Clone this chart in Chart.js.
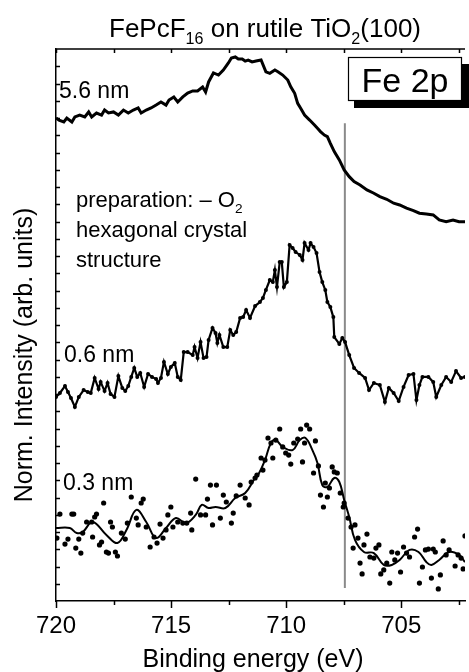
<!DOCTYPE html>
<html>
<head>
<meta charset="utf-8">
<script src="https://cdn.jsdelivr.net/npm/chart.js@4.4.0/dist/chart.umd.min.js"></script>
<style>
  html, body { margin:0; padding:0; background:#fff; }
  #chart { display:block; }
</style>
</head>
<body>
<canvas id="chart" width="469" height="672"></canvas>
<script>
// ---- Data (binding energy in eV, normalized intensity in arb. units) ----
const xTicks = [720, 715, 710, 705];

// 5.6 nm spectrum
const energy56 = [720.00,719.87,719.66,719.53,719.31,719.18,718.97,718.75,718.58,718.45,718.24,718.02,717.89,717.72,717.50,717.29,717.07,716.86,716.64,716.43,716.30,716.08,715.87,715.65,715.44,715.22,715.09,714.88,714.71,714.49,714.28,714.06,713.85,713.63,713.50,713.37,713.16,712.94,712.73,712.51,712.38,712.21,712.08,711.91,711.78,711.65,711.48,711.31,711.09,710.88,710.71,710.49,710.36,710.15,709.93,709.80,709.63,709.50,709.37,709.20,708.98,708.77,708.64,708.51,708.34,708.21,708.08,707.91,707.69,707.48,707.26,707.05,706.79,706.49,706.19,705.93,705.63,705.33,705.07,704.77,704.47,704.21,703.91,703.61,703.35,703.05,702.75,702.49,702.23];
const inten56  = [28.00,27.88,27.77,28.00,27.77,28.06,28.17,28.06,28.35,28.06,28.29,28.17,28.46,28.29,28.35,28.17,28.46,28.29,28.46,28.58,28.29,28.46,28.58,28.75,28.93,28.75,29.04,29.22,28.93,29.22,29.45,29.57,29.57,29.80,29.51,30.09,30.61,30.49,30.78,31.19,31.48,31.54,31.42,31.42,31.30,31.36,31.25,31.30,31.36,30.68,30.59,30.78,30.68,30.49,30.20,29.81,29.43,28.85,28.56,28.17,27.88,27.59,27.40,27.21,27.01,26.92,26.53,26.05,25.57,24.99,24.60,24.31,24.12,23.83,23.64,23.44,23.29,23.06,22.96,22.77,22.63,22.48,22.43,22.38,22.09,21.99,22.09,21.99,21.99];

// 0.6 nm spectrum
const energy06 = [720.00,719.83,719.61,719.48,719.35,719.18,719.01,718.80,718.62,718.49,718.32,718.15,718.06,717.89,717.76,717.63,717.46,717.29,717.12,716.99,716.86,716.73,716.60,716.47,716.34,716.17,716.00,715.83,715.65,715.57,715.44,715.31,715.14,715.01,714.84,714.71,714.58,714.45,714.28,714.06,713.98,713.85,713.72,713.59,713.46,713.37,713.20,713.07,712.99,712.90,712.73,712.56,712.43,712.30,712.17,712.00,711.87,711.74,711.57,711.35,711.14,711.01,710.88,710.71,710.58,710.49,710.40,710.28,710.19,710.10,709.97,709.85,709.72,709.59,709.41,709.29,709.20,709.03,708.94,708.81,708.68,708.55,708.43,708.30,708.21,708.08,707.95,707.91,707.69,707.56,707.44,707.26,707.05,706.83,706.57,706.40,706.19,705.93,705.71,705.54,705.33,705.11,704.90,704.68,704.47,704.34,704.21,704.08,703.82,703.61,703.48,703.26,703.05,702.83,702.62,702.40,702.23];
const inten06  = [11.83,12.06,12.46,12.12,11.77,11.25,11.83,12.23,12.12,12.06,12.93,12.29,12.70,12.17,12.64,12.00,11.83,13.04,12.35,12.17,12.46,12.99,13.51,12.99,13.22,12.41,13.16,12.99,12.87,12.64,12.93,13.86,13.16,13.57,13.80,12.99,12.81,14.43,14.43,14.26,14.72,14.09,15.01,14.09,14.14,15.13,15.83,15.54,14.96,15.42,14.72,14.72,15.71,15.42,15.59,16.41,16.46,16.87,16.41,17.10,17.33,17.57,18.03,18.61,18.49,19.19,18.20,19.65,19.65,18.20,18.49,20.64,20.46,20.23,20.06,19.77,20.75,20.35,20.75,20.52,20.17,19.07,18.49,18.03,17.33,17.04,16.46,15.30,14.90,15.25,15.01,14.26,13.51,13.22,12.93,12.23,12.64,12.52,11.54,12.35,12.06,11.59,12.41,13.10,13.16,11.65,12.52,12.99,12.99,12.70,11.83,12.52,12.99,12.70,13.33,12.93,12.99];

// 0.3 nm: smoothed curve
const energyFit03 = [720.00,719.40,719.10,718.84,718.41,717.81,717.33,716.94,716.51,716.08,715.65,715.22,714.79,714.36,713.93,713.67,713.37,713.07,712.64,712.21,711.78,711.35,711.22,710.92,710.66,710.45,710.15,709.72,709.41,709.16,708.86,708.64,708.43,708.21,707.91,707.69,707.48,707.26,707.01,706.62,706.19,705.76,705.41,705.07,704.64,704.25,703.91,703.69,703.35,702.92,702.49,702.23];
const intenFit03  = [4.23,4.23,3.94,4.00,4.58,3.83,3.36,4.12,5.28,4.58,3.65,4.23,4.81,4.52,4.99,5.57,5.39,5.45,5.39,5.97,6.26,7.13,7.30,8.17,9.16,9.33,8.93,8.75,9.33,9.45,8.75,8.00,6.72,6.61,7.13,6.90,5.86,4.87,3.54,2.84,2.78,2.09,2.09,2.38,2.96,2.84,2.26,2.09,2.38,2.84,2.67,2.26];

// 0.3 nm: measured points
const energyDots03 = [719.96,719.83,719.61,719.48,719.31,719.23,719.14,719.01,718.92,718.84,718.67,718.45,718.41,718.32,718.24,718.11,718.02,717.93,717.81,717.72,717.63,717.55,717.42,717.33,717.16,716.99,716.90,716.73,716.51,716.43,716.30,716.21,716.08,715.91,715.74,715.61,715.48,715.35,715.22,715.14,715.01,714.92,714.71,714.49,714.32,714.15,714.10,713.93,713.72,713.50,713.42,713.29,713.20,713.03,712.86,712.73,712.60,712.38,712.30,712.17,712.00,711.78,711.61,711.52,711.35,711.27,711.09,711.01,710.92,710.79,710.66,710.58,710.45,710.28,710.15,710.02,709.89,709.80,709.67,709.50,709.37,709.29,709.20,709.11,708.98,708.81,708.73,708.60,708.51,708.38,708.30,708.21,708.12,708.00,707.91,707.78,707.65,707.52,707.48,707.31,707.18,707.09,707.01,706.88,706.79,706.70,706.62,706.49,706.36,706.19,706.10,705.97,705.89,705.76,705.63,705.50,705.41,705.28,705.16,705.03,704.90,704.77,704.64,704.42,704.29,704.21,704.08,703.95,703.82,703.69,703.61,703.52,703.39,703.30,703.18,703.05,702.92,702.66,702.53,702.40,702.31,702.23];
const intenDots03  = [3.65,5.04,3.30,3.59,5.04,5.04,3.07,3.59,2.78,3.94,4.58,4.58,3.71,4.87,5.04,3.25,3.42,5.68,2.84,2.78,4.58,4.29,2.84,2.61,3.94,3.59,4.52,6.03,4.81,4.41,5.68,5.91,4.29,3.13,3.71,3.36,4.46,3.65,4.12,4.99,5.45,4.29,4.58,4.52,4.52,5.10,4.12,7.07,4.99,4.99,5.91,6.72,4.41,6.72,4.81,6.14,5.74,4.52,5.10,6.09,6.72,5.97,5.57,6.90,7.13,7.30,8.29,7.59,8.17,9.45,9.16,8.29,9.33,9.97,8.93,8.58,8.46,7.94,9.16,9.39,9.97,8.06,9.16,10.20,9.97,7.42,9.28,7.83,6.14,5.45,6.84,6.03,6.55,7.77,7.48,7.42,6.26,5.45,5.68,4.81,4.29,3.07,4.41,3.65,2.20,1.57,3.25,3.88,2.55,2.49,3.07,3.25,1.57,1.80,2.20,1.04,2.84,2.38,2.78,1.68,3.13,2.78,2.55,3.71,4.17,1.04,1.97,2.96,3.01,1.33,3.01,2.84,0.70,1.51,3.48,2.67,2.96,2.03,2.67,2.49,1.86,3.77];

// vertical reference marker
const refEnergy = [707.45, 707.45];
const refInten  = [0.75, 27.7];

// ---- Helpers ----
const FONT = '"Liberation Sans", Arial, sans-serif';
const zip = (xs, ys) => xs.map((x, i) => ({ x, y: ys[i] }));

// text with subscripts: parts = [[text, isSub], ...]
function richText(ctx, parts, x, y, size, align){
  const widths = parts.map(([t, sub]) => {
    ctx.font = (sub ? size * 0.62 : size) + 'px ' + FONT;
    return ctx.measureText(t).width;
  });
  const total = widths.reduce((a, b) => a + b, 0);
  let cx = align === 'center' ? x - total / 2 : x;
  ctx.textAlign = 'left';
  ctx.textBaseline = 'alphabetic';
  parts.forEach(([t, sub], i) => {
    ctx.font = (sub ? size * 0.62 : size) + 'px ' + FONT;
    ctx.fillText(t, cx, sub ? y + size * 0.28 : y);
    cx += widths[i];
  });
}

// ---- Frame, ticks and annotations ----
const decor = {
  id: 'decor',
  afterDraw(chart){
    const { ctx, chartArea: a, scales: { x, y } } = chart;
    ctx.save();
    ctx.strokeStyle = '#000';
    ctx.lineWidth = 1.5;
    ctx.beginPath();
    ctx.moveTo(a.left, a.top); ctx.lineTo(a.right, a.top);
    // x ticks: outward at bottom, inward at top
    for (let v = 720; v > x.min; v -= 2.5){
      const px = Math.round(x.getPixelForValue(v)) + 0.5;
      const major = v % 5 === 0;
      ctx.moveTo(px, a.bottom); ctx.lineTo(px, a.bottom + (major ? 7 : 4));
      ctx.moveTo(px, a.top); ctx.lineTo(px, a.top + 4);
    }
    // y ticks: inward on the left
    for (let v = 1; v < y.max; v++){
      const py = Math.round(y.getPixelForValue(v)) + 0.5;
      ctx.moveTo(a.left, py); ctx.lineTo(a.left + 4, py);
    }
    ctx.stroke();

    ctx.fillStyle = '#000';
    richText(ctx, [['FePcF', false], ['16', true], [' on rutile TiO', false], ['2', true], ['(100)', false]], 265, 37, 26, 'center');
    richText(ctx, [['5.6 nm', false]], 59, 98, 23);
    richText(ctx, [['0.6 nm', false]], 64, 362, 23);
    richText(ctx, [['0.3 nm', false]], 63, 490, 23);
    richText(ctx, [['preparation: \u2013 O', false], ['2', true]], 76, 207, 22);
    richText(ctx, [['hexagonal crystal', false]], 76, 237, 22);
    richText(ctx, [['structure', false]], 76, 267, 22);

    // Fe 2p label box with shadow
    ctx.fillRect(354, 64, 115, 44);
    ctx.fillStyle = '#fff';
    ctx.fillRect(348, 57, 114, 44);
    ctx.lineWidth = 1.2;
    ctx.strokeRect(348.5, 57.5, 113, 43);
    ctx.fillStyle = '#000';
    richText(ctx, [['Fe 2p', false]], 405, 92, 34, 'center');

    // axis titles
    richText(ctx, [['Binding energy (eV)', false]], 253, 667, 25, 'center');
    ctx.translate(32, 355);
    ctx.rotate(-Math.PI / 2);
    richText(ctx, [['Norm. Intensity (arb. units)', false]], 0, 0, 25, 'center');
    ctx.restore();
  }
};

// ---- Chart ----
new Chart(document.getElementById('chart'), {
  type: 'scatter',
  data: {
    datasets: [
      { label: '5.6 nm', data: zip(energy56, inten56), showLine: true, borderColor: '#000', borderWidth: 3, pointRadius: 0 },
      { label: '0.6 nm', data: zip(energy06, inten06), showLine: true, borderColor: '#000', borderWidth: 2.2,
        pointRadius: 2, pointBackgroundColor: '#000', pointBorderWidth: 0 },
      { label: '0.3 nm fit', data: zip(energyFit03, intenFit03), showLine: true, borderColor: '#000', borderWidth: 2,
        pointRadius: 0, tension: 0.4 },
      { label: '0.3 nm', data: zip(energyDots03, intenDots03), showLine: false, pointRadius: 2.6,
        pointBackgroundColor: '#000', pointBorderWidth: 0 },
      { label: 'ref', data: zip(refEnergy, refInten), showLine: true, borderColor: '#8a8a8a', borderWidth: 2, pointRadius: 0 },
    ]
  },
  options: {
    responsive: false,
    animation: false,
    layout: { padding: { top: 49, right: 0, left: 0, bottom: 0 } },
    plugins: { legend: { display: false }, tooltip: { enabled: false }, title: { display: false } },
    scales: {
      x: {
        type: 'linear', reverse: true, min: 702.23, max: 720,
        afterBuildTicks: s => { s.ticks = xTicks.map(v => ({ value: v })); },
        afterFit: s => { s.height = 71; },
        grid: { display: false, drawTicks: false },
        border: { display: true, color: '#000', width: 1.5 },
        ticks: { color: '#000', padding: 11, maxRotation: 0, font: { family: FONT, size: 24 } }
      },
      y: {
        type: 'linear', min: 0, max: 32,
        afterFit: s => { s.width = 56; },
        grid: { display: false, drawTicks: false },
        border: { display: true, color: '#000', width: 1.5 },
        ticks: { display: false }
      }
    }
  },
  plugins: [decor]
});
</script>
</body>
</html>
